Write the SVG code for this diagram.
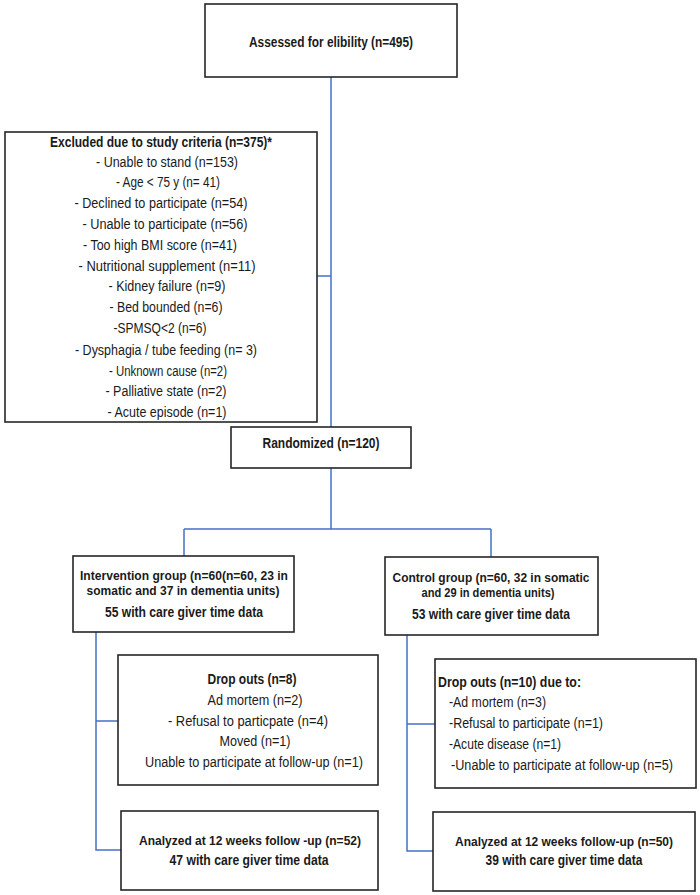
<svg xmlns="http://www.w3.org/2000/svg" width="700" height="895" viewBox="0 0 700 895">
<style>
.box{fill:#fff;stroke:#262626;stroke-width:1.6}
.c{fill:none;stroke:#4472C4;stroke-width:1.5}
text{font-family:"Liberation Sans",Arial,sans-serif;font-size:14px;fill:#1a1a1a}
.b{font-weight:bold}
.m{text-anchor:middle}
.s{font-size:12.5px}
.t{font-size:13px}
</style>
<rect width="700" height="895" fill="#fff"/>
<g id="connectors">
<path class="c" d="M331,77V427M317,276H331"/>
<path class="c" d="M331,468V529M184,529H491M184,529V556M491,529V557"/>
<path class="c" d="M96,632V850H121M96,721H118"/>
<path class="c" d="M407,635V851H433M407,724H435"/>
</g>
<g id="assessed">
<rect class="box" x="205" y="4" width="252" height="73"/>
<text class="b m" x="331" y="47" textLength="164" lengthAdjust="spacingAndGlyphs">Assessed for elibility (n=495)</text>
</g>
<g id="excluded">
<rect class="box" x="5" y="132" width="312" height="290"/>
<text class="b m" x="161" y="146.5" textLength="222" lengthAdjust="spacingAndGlyphs">Excluded due to study criteria (n=375)*</text>
<text class="m" x="167" y="166.5" textLength="142" lengthAdjust="spacingAndGlyphs">- Unable to stand (n=153)</text>
<text class="m" x="168" y="186.5" textLength="104" lengthAdjust="spacingAndGlyphs">- Age &lt; 75 y (n= 41)</text>
<text class="m" x="161" y="207.5" textLength="173" lengthAdjust="spacingAndGlyphs">- Declined to participate (n=54)</text>
<text class="m" x="165" y="228.5" textLength="165" lengthAdjust="spacingAndGlyphs">- Unable to participate (n=56)</text>
<text class="m" x="160" y="249.5" textLength="154" lengthAdjust="spacingAndGlyphs">- Too high BMI score (n=41)</text>
<text class="m" x="167" y="270.5" textLength="177" lengthAdjust="spacingAndGlyphs">- Nutritional supplement (n=11)</text>
<text class="m" x="167" y="290.5" textLength="117" lengthAdjust="spacingAndGlyphs">- Kidney failure (n=9)</text>
<text class="m" x="166" y="312" textLength="113" lengthAdjust="spacingAndGlyphs">- Bed bounded (n=6)</text>
<text class="m" x="160" y="333" textLength="93" lengthAdjust="spacingAndGlyphs">-SPMSQ&lt;2 (n=6)</text>
<text class="m" x="166" y="354.5" textLength="182" lengthAdjust="spacingAndGlyphs">- Dysphagia / tube feeding (n= 3)</text>
<text class="m" x="168" y="375.5" textLength="118" lengthAdjust="spacingAndGlyphs">- Unknown cause (n=2)</text>
<text class="m" x="166" y="396" textLength="121" lengthAdjust="spacingAndGlyphs">- Palliative state (n=2)</text>
<text class="m" x="167" y="417" textLength="119" lengthAdjust="spacingAndGlyphs">- Acute episode (n=1)</text>
</g>
<g id="randomized">
<rect class="box" x="231" y="427" width="180" height="41"/>
<text class="b m" x="321" y="447.5" textLength="117" lengthAdjust="spacingAndGlyphs">Randomized (n=120)</text>
</g>
<g id="intervention">
<rect class="box" x="73" y="556" width="221" height="76"/>
<text class="b m s" x="184" y="580" textLength="208" lengthAdjust="spacingAndGlyphs">Intervention group (n=60(n=60, 23 in</text>
<text class="b m s" x="183" y="595" textLength="193" lengthAdjust="spacingAndGlyphs">somatic and  37 in dementia units)</text>
<text class="b m" x="184" y="616.5" textLength="158" lengthAdjust="spacingAndGlyphs">55 with care giver time data</text>
</g>
<g id="control">
<rect class="box" x="385" y="557" width="213" height="78"/>
<text class="b m s" x="491" y="582" textLength="197" lengthAdjust="spacingAndGlyphs">Control group (n=60, 32 in somatic</text>
<text class="b m s" x="488" y="597" textLength="133" lengthAdjust="spacingAndGlyphs">and  29 in dementia units)</text>
<text class="b m" x="491" y="619" textLength="158" lengthAdjust="spacingAndGlyphs">53 with care giver time data</text>
</g>
<g id="dropouts-intervention">
<rect class="box" x="118" y="655" width="260" height="130"/>
<text class="b m" x="252" y="684" textLength="89" lengthAdjust="spacingAndGlyphs">Drop outs (n=8)</text>
<text class="m" x="255" y="705" textLength="95" lengthAdjust="spacingAndGlyphs">Ad mortem (n=2)</text>
<text class="m" x="248" y="725.5" textLength="160" lengthAdjust="spacingAndGlyphs">-   Refusal to particpate (n=4)</text>
<text class="m" x="255" y="745.5" textLength="71" lengthAdjust="spacingAndGlyphs">Moved (n=1)</text>
<text class="m" x="254" y="766.5" textLength="218" lengthAdjust="spacingAndGlyphs">Unable to participate at follow-up (n=1)</text>
</g>
<g id="dropouts-control">
<rect class="box" x="435" y="659" width="261" height="129"/>
<text class="b" x="438" y="686.5" textLength="143" lengthAdjust="spacingAndGlyphs">Drop outs (n=10) due to:</text>
<text x="449" y="707" textLength="97" lengthAdjust="spacingAndGlyphs">-Ad mortem (n=3)</text>
<text x="449" y="728" textLength="154" lengthAdjust="spacingAndGlyphs">-Refusal to participate (n=1)</text>
<text x="449" y="749" textLength="112" lengthAdjust="spacingAndGlyphs">-Acute disease (n=1)</text>
<text x="451" y="770" textLength="222" lengthAdjust="spacingAndGlyphs">-Unable to participate at follow-up (n=5)</text>
</g>
<g id="analyzed-intervention">
<rect class="box" x="121" y="811" width="257" height="79"/>
<text class="b m t" x="250" y="845" textLength="222" lengthAdjust="spacingAndGlyphs">Analyzed at 12 weeks follow -up (n=52)</text>
<text class="b m" x="249" y="865" textLength="159" lengthAdjust="spacingAndGlyphs">47 with care giver time data</text>
</g>
<g id="analyzed-control">
<rect class="box" x="433" y="812" width="262" height="79"/>
<text class="b m t" x="564" y="846" textLength="218" lengthAdjust="spacingAndGlyphs">Analyzed at 12 weeks follow-up (n=50)</text>
<text class="b m" x="564" y="865" textLength="157" lengthAdjust="spacingAndGlyphs">39 with care giver time data</text>
</g>
</svg>
